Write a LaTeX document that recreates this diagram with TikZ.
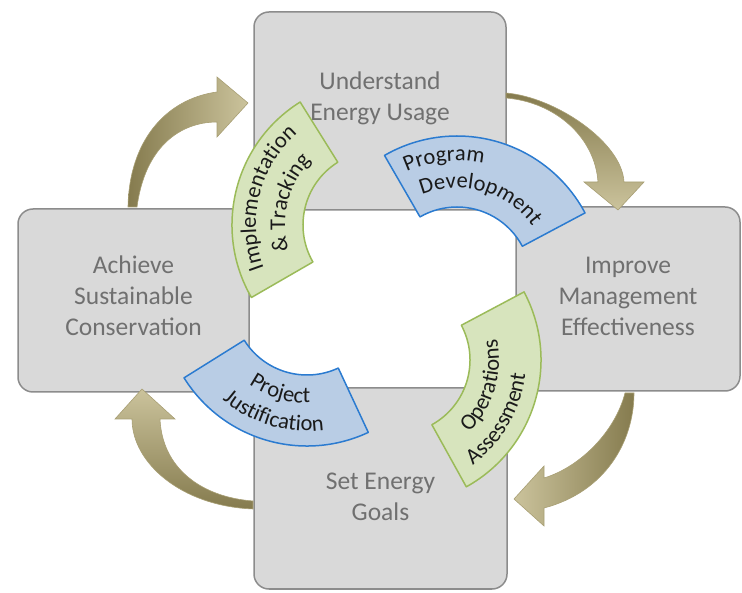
\documentclass[tikz,border=0pt]{standalone}
\usepackage{fontspec}
\setmainfont{Carlito}
\usetikzlibrary{decorations.text}

\definecolor{boxfill}{HTML}{D9D9D9}
\definecolor{boxline}{HTML}{8C8C8C}
\definecolor{boxtext}{HTML}{707070}
\definecolor{greenfill}{HTML}{D7E4BD}
\definecolor{greenline}{HTML}{9BBB59}
\definecolor{bluefill}{HTML}{B9CDE5}
\definecolor{blueline}{HTML}{2B7BD0}
\definecolor{bandtext}{HTML}{1A1A1A}
\definecolor{arrowdark}{HTML}{857B4E}
\definecolor{arrowlight}{HTML}{CBC39C}
\definecolor{arrowline}{HTML}{A89F74}

\newcommand{\bandfont}{\fontsize{22.5}{26}\selectfont}

\tikzset{
  stagebox/.style={draw=boxline, line width=1.5pt, fill=boxfill, rounded corners=15pt, inner sep=0pt},
  stagetext/.style={text=boxtext, align=center, font=\fontsize{25.5}{31}\selectfont},
  greenband/.style={draw=greenline, fill=greenfill, line width=1.5pt, line join=round},
  blueband/.style={draw=blueline, fill=bluefill, line width=1.5pt, line join=round},
  cyclearrow/.style={draw=arrowline, line width=0.6pt},
  bandlabel/.style={decorate, decoration={text along path, text align=center, text color=bandtext, text={|\bandfont|#1}}}
}

\begin{document}
\begin{tikzpicture}[x=1pt,y=1pt]
\useasboundingbox (0,0) rectangle (742,592);

% four stages
\node[stagebox, minimum width=252pt, minimum height=198pt] (usage) at (380,481) {};
\node[stagebox, minimum width=231pt, minimum height=183pt] (conserve) at (133.5,291.5) {};
\node[stagebox, minimum width=224pt, minimum height=184pt] (improve) at (628,293) {};
\node[stagebox, minimum width=253pt, minimum height=201pt] (goals) at (380.5,103.5) {};

\node[stagetext] (usagetxt) at ([yshift=13pt]usage.center) {Understand\\Energy Usage};
\node[stagetext] (conservetxt) at ([yshift=4.5pt]conserve.center) {Achieve\\Sustainable\\Conservation};
\node[stagetext] (improvetxt) at ([yshift=3pt]improve.center) {Improve\\Management\\Effectiveness};
\node[stagetext] (goalstxt) at ([yshift=-8pt]goals.center) {Set Energy\\Goals};

% arrows between stages
\path[cyclearrow, left color=arrowdark, right color=arrowlight]
  (128,385) .. controls (129,450) and (165,493) .. (217,500) -- (217,515) -- (248,489)
  -- (217,455) -- (217,470) .. controls (180,470) and (145,445) .. (137,385) -- cycle;
\path[cyclearrow, top color=arrowdark, bottom color=arrowlight]
  (506,499) .. controls (555,495) and (622,450) .. (624,410) -- (644,410) -- (618,382)
  -- (584,410) -- (598,410) .. controls (595,455) and (555,490) .. (506,494) -- cycle;
\path[cyclearrow, right color=arrowdark, left color=arrowlight]
  (634,199) .. controls (634,150) and (605,100) .. (544,84) -- (544,66) -- (514,93)
  -- (544,126) -- (544,114) .. controls (580,125) and (615,160) .. (625,199) -- cycle;
\path[cyclearrow, bottom color=arrowdark, top color=arrowlight]
  (253,83) .. controls (180,86) and (132,130) .. (132,173) -- (115,173) -- (142,203)
  -- (175,173) -- (160,173) .. controls (162,125) and (200,95) .. (253,91) -- cycle;

% curved bands
\coordinate (trackc) at (377,367);
\coordinate (devc) at (457,311);
\coordinate (assessc) at (396,232);
\coordinate (justc) at (307,291);

\path[greenband] ([shift={(trackc)}]122:145) arc[start angle=122, end angle=210, radius=145]
  -- ([shift={(trackc)}]210:74) arc[start angle=210, end angle=122, radius=74] -- cycle;
\path[bandlabel={Implementation}] ([shift={(trackc)}]210:121) arc[start angle=210, end angle=122, radius=121];
\path[bandlabel={{\&} Tracking}] ([shift={(trackc)}]210:92) arc[start angle=210, end angle=122, radius=92];

\path[blueband] ([shift={(devc)}]28:145) arc[start angle=28, end angle=120, radius=145]
  -- ([shift={(devc)}]120:74) arc[start angle=120, end angle=28, radius=74] -- cycle;
\path[bandlabel={Program}] ([shift={(devc)}]120:120) arc[start angle=120, end angle=72, radius=120];
\path[bandlabel={Development}] ([shift={(devc)}]120:93) arc[start angle=120, end angle=28, radius=93];

\path[greenband] ([shift={(assessc)}]-61:145) arc[start angle=-61, end angle=28, radius=145]
  -- ([shift={(assessc)}]28:74) arc[start angle=28, end angle=-61, radius=74] -- cycle;
\path[bandlabel={Operations}] ([shift={(assessc)}]-61:103) arc[start angle=-61, end angle=28, radius=103];
\path[bandlabel={Assessment}] ([shift={(assessc)}]-61:130) arc[start angle=-61, end angle=1, radius=130];

\path[blueband] ([shift={(justc)}]212:145) arc[start angle=212, end angle=295, radius=145]
  -- ([shift={(justc)}]295:74) arc[start angle=295, end angle=212, radius=74] -- cycle;
\path[bandlabel={Project}] ([shift={(justc)}]212:102) arc[start angle=212, end angle=295, radius=102];
\path[bandlabel={Justification}] ([shift={(justc)}]212:130) arc[start angle=212, end angle=295, radius=130];
\end{tikzpicture}
\end{document}
